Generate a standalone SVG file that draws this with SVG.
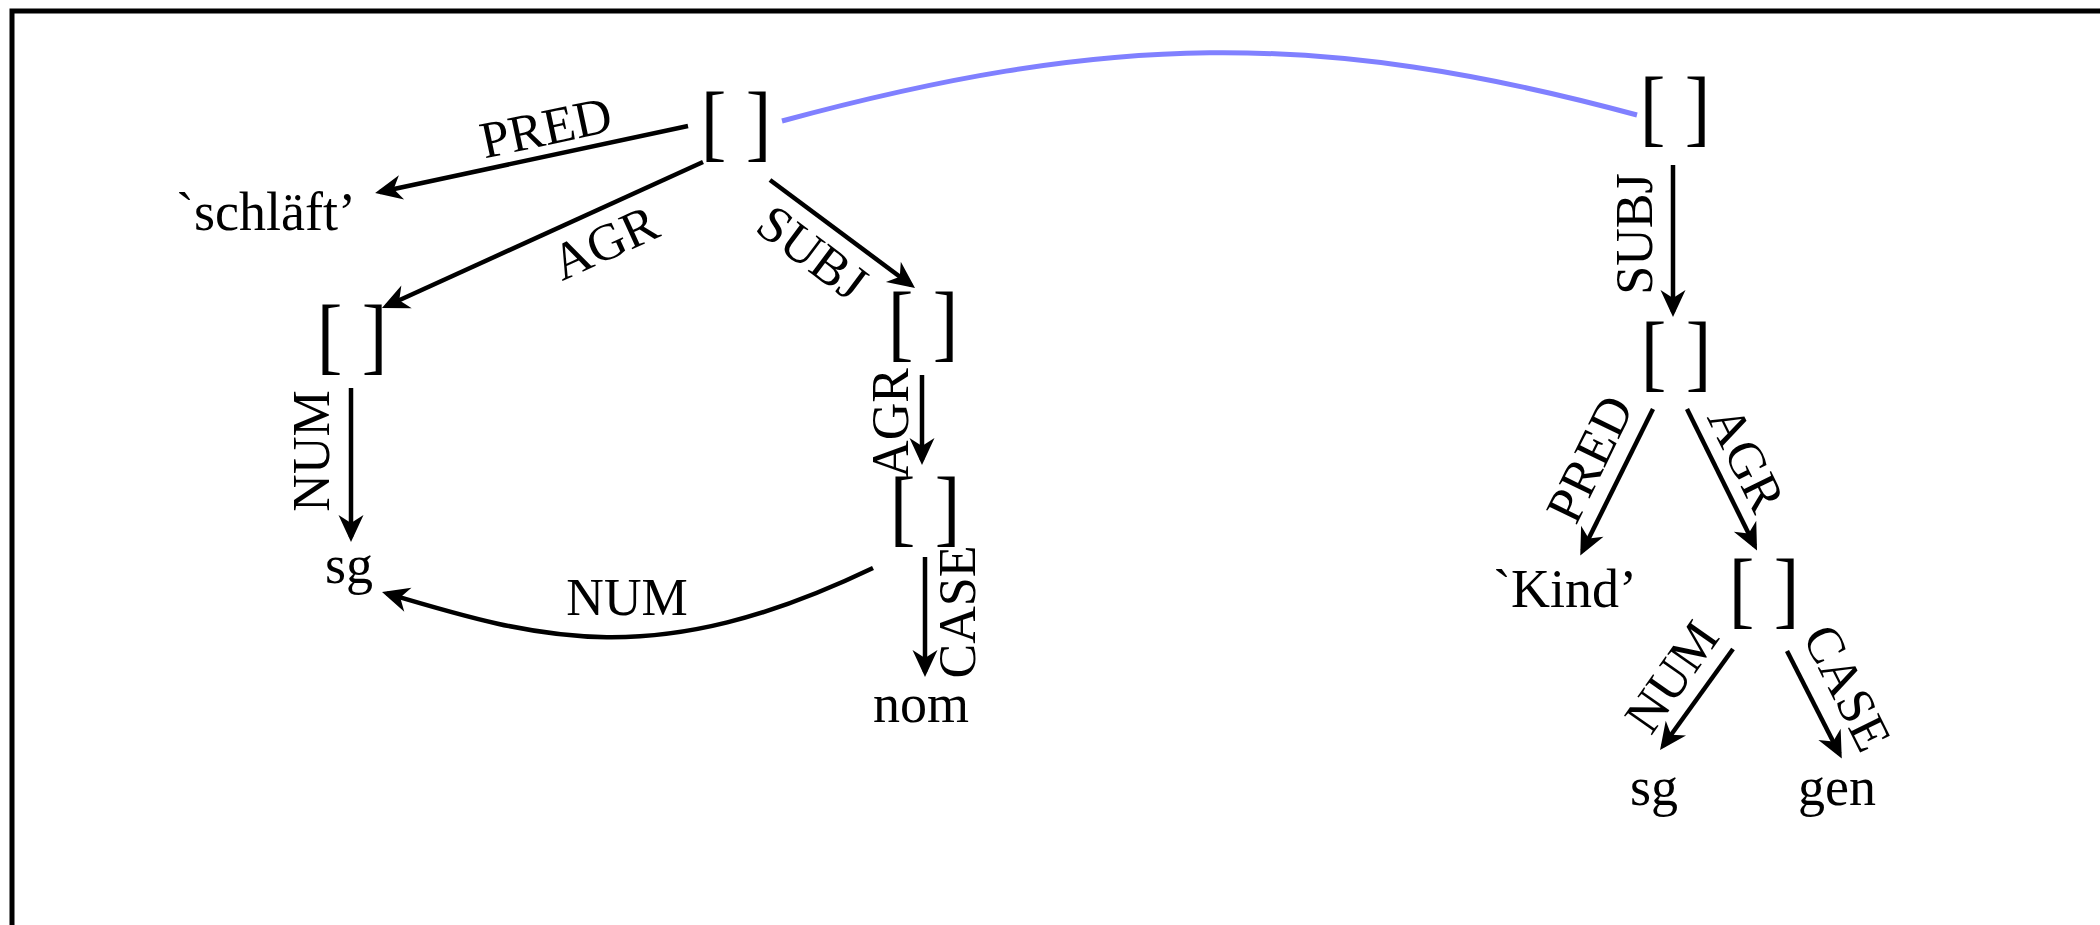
<svg xmlns="http://www.w3.org/2000/svg" width="2100" height="925" viewBox="0 0 2100 925">
<style>
text{font-family:"Liberation Serif","Times New Roman",serif;fill:#000}
.v{font-size:54px;text-anchor:middle}
.b{font-size:77px;text-anchor:middle}
.l{font-size:52px;text-anchor:middle}
.e{fill:none;stroke:#000;stroke-width:4.5;marker-end:url(#ah)}
.blue{fill:none;stroke:#8080ff;stroke-width:5}
</style>
<defs>
<marker id="ah" markerUnits="userSpaceOnUse" viewBox="-32 -16 40 32" markerWidth="40" markerHeight="32" refX="-5" refY="0" orient="auto">
<path d="M0,0 L-27,-12.5 L-19,0 L-27,12.5 Z" fill="#000"/>
</marker>
</defs>
<rect x="12" y="11" width="2200" height="1000" fill="#fff" stroke="#000" stroke-width="5"/>
<g id="connectors">
<path class="blue" d="M782,121 C1103,34 1316,28 1637,115"/>
<path class="e" d="M688,126 L380,192"/>
<path class="e" d="M703,162 L386.5,306"/>
<path class="e" d="M770,180 L911,285"/>
<path class="e" d="M351,388 L351,537"/>
<path class="e" d="M922,375 L922,460"/>
<path class="e" d="M925,557 L925,672"/>
<path class="e" d="M873,568 C656,672 542,640 386.8,593.4"/>
<path class="e" d="M1673,165 L1673,312"/>
<path class="e" d="M1653,409 L1582.5,551"/>
<path class="e" d="M1687,409 L1754.8,546"/>
<path class="e" d="M1733,649 L1663,746"/>
<path class="e" d="M1787,651 L1839.5,754"/>
</g>
<g id="edge-labels">
<text class="l" transform="translate(546,128) rotate(-12)" y="17">PRED</text>
<text class="l" transform="translate(605,243) rotate(-24.5)" y="17">AGR</text>
<text class="l" transform="translate(812,253) rotate(36.7)" y="17">SUBJ</text>
<text class="l" transform="translate(312,451) rotate(-90)" y="17">NUM</text>
<text class="l" transform="translate(891,423) rotate(-90)" y="17">AGR</text>
<text class="l" transform="translate(958,612) rotate(-90)" y="17">CASE</text>
<text class="l" x="627" y="615">NUM</text>
<text class="l" transform="translate(1635,234) rotate(-90)" y="17">SUBJ</text>
<text class="l" transform="translate(1590,459) rotate(-63.9)" y="17">PRED</text>
<text class="l" transform="translate(1746,459) rotate(63.8)" y="17">AGR</text>
<text class="l" transform="translate(1672,677) rotate(-54.9)" y="17">NUM</text>
<text class="l" transform="translate(1847,688) rotate(63.4)" y="17">CASE</text>
</g>
<g id="n-root"><text class="b" transform="translate(736,151) scale(1,1.1)">[ ]</text></g>
<g id="n-schlaeft"><text class="v" x="266" y="230">`schläft’</text></g>
<g id="n-agr1"><text class="b" transform="translate(352,364) scale(1,1.1)">[ ]</text></g>
<g id="n-sg1"><text class="v" x="349" y="583">sg</text></g>
<g id="n-subj1"><text class="b" transform="translate(923,351) scale(1,1.1)">[ ]</text></g>
<g id="n-agr2"><text class="b" transform="translate(925,536) scale(1,1.1)">[ ]</text></g>
<g id="n-nom"><text class="v" x="921" y="722">nom</text></g>
<g id="n-root2"><text class="b" transform="translate(1675,136) scale(1,1.1)">[ ]</text></g>
<g id="n-subj2"><text class="b" transform="translate(1676,381) scale(1,1.1)">[ ]</text></g>
<g id="n-kind"><text class="v" x="1565" y="607">`Kind’</text></g>
<g id="n-agr3"><text class="b" transform="translate(1764,618) scale(1,1.1)">[ ]</text></g>
<g id="n-sg2"><text class="v" x="1654" y="805">sg</text></g>
<g id="n-gen"><text class="v" x="1837" y="805">gen</text></g>
</svg>
